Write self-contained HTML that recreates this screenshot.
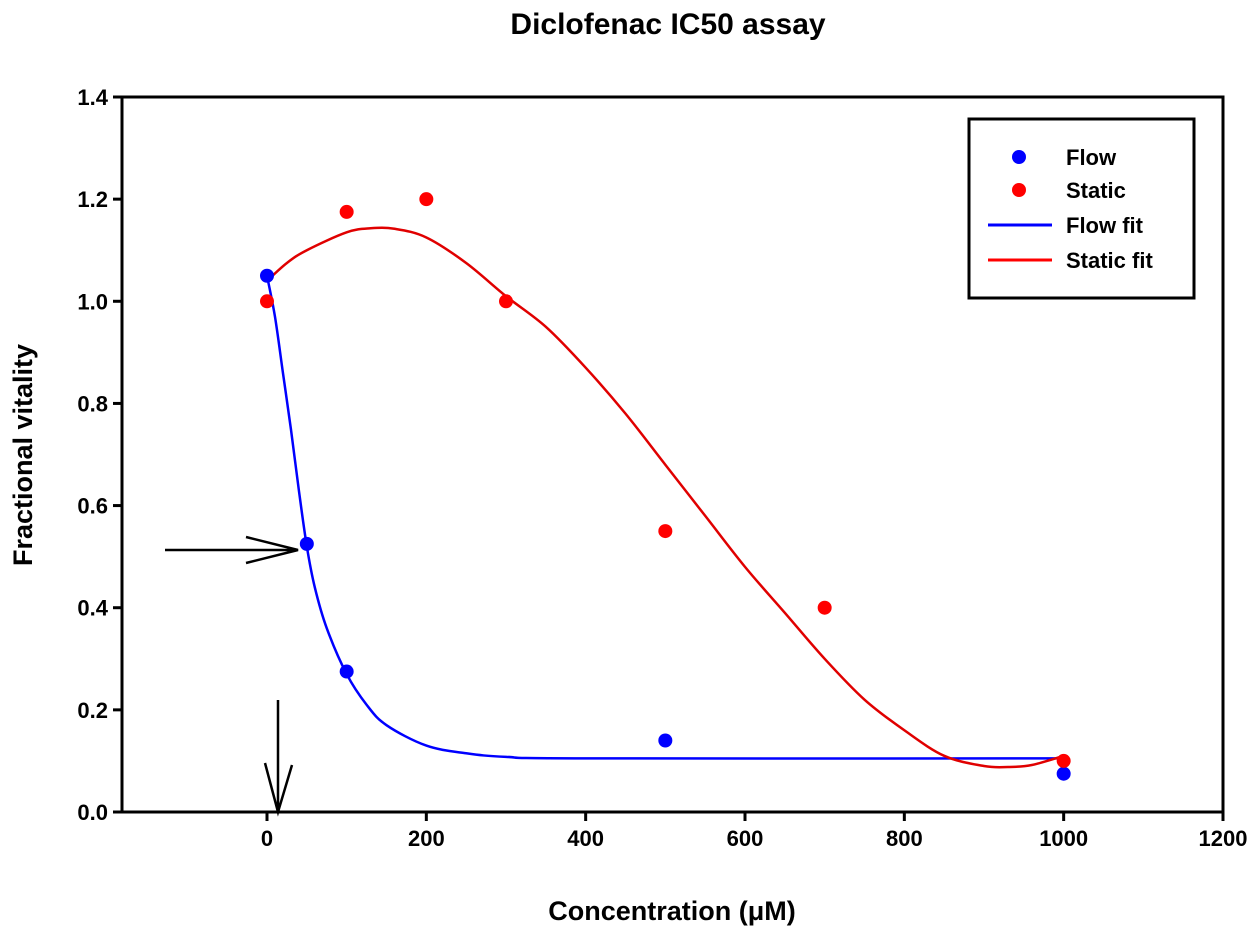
<!DOCTYPE html>
<html><head><meta charset="utf-8"><style>
body{margin:0;background:#fff}
svg text{font-family:"Liberation Sans",sans-serif;font-weight:bold;fill:#000}
</style></head><body>
<svg id="chart" width="1255" height="941" xmlns="http://www.w3.org/2000/svg">
<text x="668" y="34" font-size="30" text-anchor="middle">Diclofenac IC50 assay</text>
<text x="672" y="920" font-size="27" text-anchor="middle">Concentration (μM)</text>
<text transform="translate(32,455) rotate(-90)" font-size="27" text-anchor="middle">Fractional vitality</text>
<g id="plot"></g>
</svg>
<script>
const xTicks=[0,200,400,600,800,1000,1200];
const yTicks=[0.0,0.2,0.4,0.6,0.8,1.0,1.2,1.4];
const yTickLabels=["0.0","0.2","0.4","0.6","0.8","1.0","1.2","1.4"];
const flowX=[0,50,100,500,1000];
const flowY=[1.05,0.525,0.275,0.14,0.075];
const staticX=[0,100,200,300,500,700,1000];
const staticY=[1.0,1.175,1.2,1.0,0.55,0.40,0.10];
const flowFitX=[0,10,20,30,40,50,60,75,100,125,150,200,250,300,400,1000];
const flowFitY=[1.05,0.97,0.86,0.75,0.63,0.52,0.44,0.36,0.27,0.21,0.17,0.13,0.115,0.108,0.105,0.105];
const staticFitX=[0,25,50,100,130,160,200,250,300,350,400,450,500,550,600,650,700,750,800,850,900,930,960,1000];
const staticFitY=[1.04,1.075,1.10,1.135,1.143,1.142,1.125,1.075,1.01,0.95,0.87,0.78,0.68,0.58,0.48,0.39,0.30,0.22,0.16,0.11,0.09,0.088,0.092,0.11];
const L=122,R=1223,T=97,B=812;
const xMin=-182,xMax=1200;
function sx(v){return L+(v-xMin)/(xMax-xMin)*(R-L);}
function sy(v){return B-v/1.4*(B-T);}
const NS="http://www.w3.org/2000/svg";
const g=document.getElementById('plot');
function mk(t,a){const e=document.createElementNS(NS,t);for(const k in a)e.setAttribute(k,a[k]);g.appendChild(e);return e;}
let e=mk('rect',{x:L,y:T,width:R-L,height:B-T,fill:'none',stroke:'#000','stroke-width':3});


xTicks.forEach(v=>{
 let t=mk('line',{x1:sx(v),x2:sx(v),y1:B,y2:B+9,stroke:'#000','stroke-width':3});
 
 
 let l=mk('text',{x:sx(v),y:B+34,'font-size':22,'text-anchor':'middle'});l.textContent=v;
 
 
});
yTicks.forEach((v,i)=>{
 let t=mk('line',{x1:L-9,x2:L,y1:sy(v),y2:sy(v),stroke:'#000','stroke-width':3});
 
 
 let l=mk('text',{x:L-14,y:sy(v)+8,'font-size':22,'text-anchor':'end'});l.textContent=yTickLabels[i];
 
 
});
function smooth(xs,ys){
 const p=xs.map((x,i)=>[sx(x),sy(ys[i])]);
 let d='M'+p[0][0]+','+p[0][1];
 for(let i=0;i<p.length-1;i++){
  const p0=p[Math.max(0,i-1)],p1=p[i],p2=p[i+1],p3=p[Math.min(p.length-1,i+2)];
  const c1=[p1[0]+(p2[0]-p0[0])/6,p1[1]+(p2[1]-p0[1])/6];
  const c2=[p2[0]-(p3[0]-p1[0])/6,p2[1]-(p3[1]-p1[1])/6];
  d+=' C'+c1+' '+c2+' '+p2;
 }
 return d;
}
e=mk('path',{d:smooth(flowFitX,flowFitY),fill:'none',stroke:'#0000ff','stroke-width':2.5});


e=mk('path',{d:smooth(staticFitX,staticFitY),fill:'none',stroke:'#e00000','stroke-width':2.5});


flowX.forEach((x,i)=>{
 let c=mk('circle',{cx:sx(x),cy:sy(flowY[i]),r:7,fill:'#0000ff'});
 
 
});
staticX.forEach((x,i)=>{
 let c=mk('circle',{cx:sx(x),cy:sy(staticY[i]),r:7,fill:'#ff0000'});
 
 
});
e=mk('path',{d:'M165,550 L298,550 M246,537 L298,550 L246,563',fill:'none',stroke:'#000','stroke-width':2.5});


e=mk('path',{d:'M278,700 L278,812 M265,763 L278,812 L292,765',fill:'none',stroke:'#000','stroke-width':2.5});


e=mk('rect',{x:969,y:119,width:225,height:179,fill:'#fff',stroke:'#000','stroke-width':3});


const leg=[['Flow','#0000ff','dot',157],['Static','#ff0000','dot',190],['Flow fit','#0000ff','line',225],['Static fit','#ff0000','line',260]];
leg.forEach(a=>{
 if(a[2]=='dot'){let c=mk('circle',{cx:1019,cy:a[3],r:7,fill:a[1]});}
 else{let c=mk('line',{x1:988,x2:1052,y1:a[3],y2:a[3],stroke:a[1],'stroke-width':3});}
 let t=mk('text',{x:1066,y:a[3]+8,'font-size':22});t.textContent=a[0];
 
 
});
</script>
</body></html>
